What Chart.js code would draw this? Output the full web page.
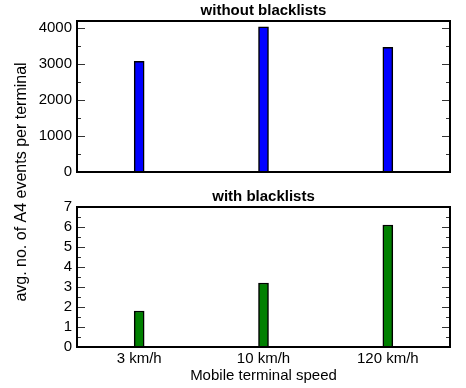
<!DOCTYPE html>
<html>
<head>
<meta charset="utf-8">
<script src="https://cdn.jsdelivr.net/npm/chart.js@4/dist/chart.umd.min.js"></script>
<style>
  html, body { margin: 0; padding: 0; background: #fff; }
  #wrap { position: relative; width: 466px; height: 388px; overflow: hidden; }
  canvas { position: absolute; left: 0; }
</style>
</head>
<body>
<div id="wrap">
  <canvas id="top" width="466" height="186" style="top:0"></canvas>
  <canvas id="bottom" width="466" height="202" style="top:186px"></canvas>
  <canvas id="ylabel" width="44" height="388" style="top:0"></canvas>
</div>
<script>
// Mobile terminal speeds
const speeds = ['3 km/h', '10 km/h', '120 km/h'];
// Average number of A4 events per terminal
const withoutBlacklists = [3080, 4040, 3470];
const withBlacklists = [1.8, 3.2, 6.1];
// Y-axis tick values (labelled) and minor tick values
const topTicks = [0, 1000, 2000, 3000, 4000];
const topMinor = [500, 1500, 2500, 3500];
const bottomTicks = [0, 1, 2, 3, 4, 5, 6, 7];
const bottomMinor = [0.5, 1.5, 2.5, 3.5, 4.5, 5.5, 6.5];
const yTitle = 'avg. no. of A4 events per terminal';

const FONT = '"Liberation Sans", Arial, Helvetica, sans-serif';
const AXIS_W = 77;

// Frame, inward tick marks and panel title
const framePlugin = {
  id: 'frame',
  afterDraw(chart, args, opts) {
    const { ctx, chartArea: a } = chart;
    const y = chart.scales.y;
    ctx.save();
    ctx.strokeStyle = '#333';
    ctx.lineWidth = 1;
    const mark = (v, len) => {
      const py = Math.round(y.getPixelForValue(v)) + 0.5;
      ctx.beginPath();
      ctx.moveTo(a.left, py); ctx.lineTo(a.left + len, py);
      ctx.moveTo(a.right, py); ctx.lineTo(a.right - len, py);
      ctx.stroke();
    };
    opts.major.forEach(v => mark(v, 8));
    opts.minor.forEach(v => mark(v, 4));
    ctx.strokeStyle = '#000';
    ctx.lineWidth = 2;
    ctx.strokeRect(a.left, a.top, a.right - a.left, a.bottom - a.top);
    ctx.fillStyle = '#000';
    ctx.font = 'bold 15px ' + FONT;
    ctx.textAlign = 'center';
    ctx.textBaseline = 'middle';
    ctx.fillText(opts.title, (a.left + a.right) / 2, a.top - 10);
    ctx.restore();
  }
};

function makeChart(id, values, color, yMax, major, minor, title, showX) {
  return new Chart(document.getElementById(id), {
    type: 'bar',
    data: {
      labels: speeds,
      datasets: [{
        data: values,
        backgroundColor: color,
        borderColor: '#000',
        borderWidth: 1.5,
        barThickness: 10
      }]
    },
    plugins: [framePlugin],
    options: {
      responsive: false,
      animation: false,
      devicePixelRatio: 1,
      layout: { padding: { top: 21, right: 16, bottom: showX ? 0 : 12, left: 0 } },
      plugins: {
        legend: { display: false },
        tooltip: { enabled: false },
        frame: { major, minor, title }
      },
      scales: {
        x: {
          display: showX,
          grid: { display: false, drawTicks: false },
          border: { display: false },
          ticks: { color: '#000', font: { family: FONT, size: 15 }, padding: 3, maxRotation: 0 },
          title: {
            display: showX, text: 'Mobile terminal speed', color: '#000',
            font: { family: FONT, size: 15 }, padding: { top: 0, bottom: 3 }
          },
          afterFit(s) { if (showX) s.height = 41; }
        },
        y: {
          min: 0, max: yMax,
          grid: { display: false, drawTicks: false },
          border: { display: false },
          ticks: {
            color: '#000', font: { family: FONT, size: 15 }, padding: 5, autoSkip: false,
            callback: v => String(v)
          },
          afterBuildTicks(s) { s.ticks = major.map(v => ({ value: v })); },
          afterFit(s) { s.width = AXIS_W; }
        }
      }
    }
  });
}

makeChart('top', withoutBlacklists, '#0000ff', 4200, topTicks, topMinor, 'without blacklists', false);
makeChart('bottom', withBlacklists, '#008000', 7, bottomTicks, bottomMinor, 'with blacklists', true);

// Shared y-axis title spanning both panels
(function () {
  const ctx = document.getElementById('ylabel').getContext('2d');
  ctx.save();
  ctx.translate(22, 182);
  ctx.rotate(-Math.PI / 2);
  ctx.fillStyle = '#000';
  ctx.font = '16px ' + FONT;
  ctx.textAlign = 'center';
  ctx.textBaseline = 'middle';
  ctx.fillText(yTitle, 0, 0);
  ctx.restore();
})();
</script>
</body>
</html>
